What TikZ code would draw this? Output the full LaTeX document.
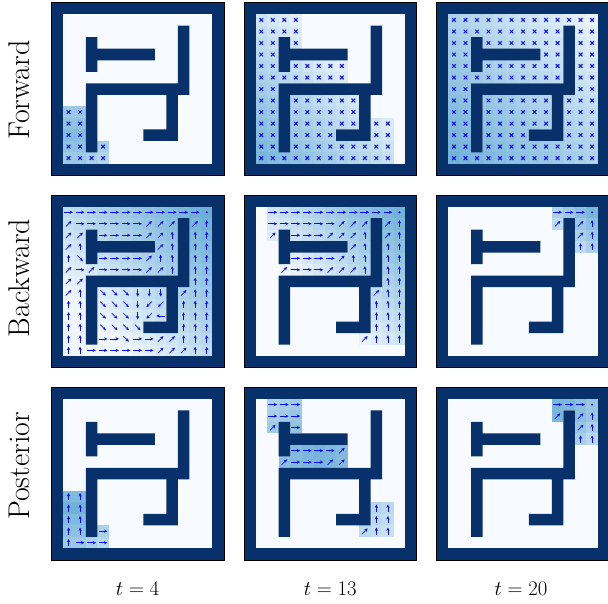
\documentclass[tikz,border=0pt]{standalone}
\usepackage{tikz}
\usetikzlibrary{arrows.meta}
\definecolor{mzwall}{HTML}{08306B}
\definecolor{mzfree}{HTML}{F7FBFF}
\definecolor{mzmid}{HTML}{6BAED6}
\definecolor{mzmark}{HTML}{0A0AF5}
\tikzset{
  mz/wall/.style={fill=mzwall},
  mz/edge/.style={draw=black, line width=0.8pt},
  mz/arr/.style={mzmark, line width=0.7pt, -{Stealth[length=3.4pt, width=3.2pt]}},
  mz/crs/.style={mzmark, line width=1pt},
  mz/side/.style={font=\fontsize{30}{36}\selectfont, rotate=90, inner sep=0pt},
  mz/time/.style={font=\fontsize{20.74}{24}\selectfont, inner sep=0pt}
}
% one glyph per cell code (x cross, o goal, arrows r l u d e s a)
\newcommand\mzsymx{\draw[mz/crs] (-0.16,-0.16) -- (0.16,0.16) (-0.16,0.16) -- (0.16,-0.16);}
\newcommand\mzsymo{\fill[mzmark] (0,0) circle (0.1);}
\newcommand\mzsymr{\draw[mz/arr] (-0.38,0) -- (0.38,0);}
\newcommand\mzsyml{\draw[mz/arr] (0.38,0) -- (-0.38,0);}
\newcommand\mzsymu{\draw[mz/arr] (0,0.32) -- (0,-0.32);}
\newcommand\mzsymd{\draw[mz/arr] (0,-0.32) -- (0,0.32);}
\newcommand\mzsyme{\draw[mz/arr] (-0.24,0.24) -- (0.24,-0.24);}
\newcommand\mzsyms{\draw[mz/arr] (-0.24,-0.24) -- (0.24,0.24);}
\newcommand\mzsyma{\draw[mz/arr] (0.24,-0.24) -- (-0.24,0.24);}
% #1,#2 corner, #3,#4 darkest cell, #5 top shade, #6 fall-off, #7 rows
\newcommand\mzpanel[7]{%
  \begin{scope}[shift={(#1,#2)}, x=11.51pt, y=-11.51pt]
    \fill[mz/wall] (0,0) rectangle (15,15);
    \fill[mzfree] (1,1) rectangle (14,14);
    \foreach \rw/\cells in {#7}
      \foreach \sym [count=\cl] in \cells {
        \if n\sym\else
          \pgfmathsetmacro\mzp{max(6,#5-#6*(abs(\cl-#3)+abs(\rw-#4)))}
          \fill[mzmid!\mzp!mzfree] (\cl,\rw) rectangle +(1,1);
          \begin{scope}[shift={(\cl+0.5,\rw+0.5)}]
            \csname mzsym\sym\endcsname
          \end{scope}
        \fi
      }
    \fill[mz/wall] (3,3) rectangle (4,6) (4,4) rectangle (9,5) (11,2) rectangle (12,8)
      (3,7) rectangle (12,8) (3,8) rectangle (4,13) (10,8) rectangle (11,12)
      (8,11) rectangle (10,12);
    \draw[mz/edge] (0,0) rectangle (15,15);
  \end{scope}}

\begin{document}
\begin{tikzpicture}[x=1pt, y=-1pt]
  \useasboundingbox (0,0) rectangle (608,603);
  \fill[white] (0,0) rectangle (608,603);

  % forward
  \mzpanel{51.3}{2.7}{1.5}{11}{85}{8}{9/{x,x}, 10/{x,x}, 11/{x,x}, 12/{x,x,n,x}, 13/{x,x,x,x}}
  \mzpanel{244}{2.7}{1}{13}{90}{5}{1/{x,x,x,x}, 2/{x,x,x,x}, 3/{x,x,n,x}, 4/{x,x},
    5/{x,x,n,x,x,x,x,x}, 6/{x,x,x,x,x,x,x,x}, 7/{x,x},
    8/{x,x,n,x,x,x,x,x,x}, 9/{x,x,n,x,x,x,x,x,x},
    10/{x,x,n,x,x,x,x,x,x,n,x,x}, 11/{x,x,n,x,x,x,x,n,n,n,x,x},
    12/{x,x,n,x,x,x,x,x,x,x,x,x}, 13/{x,x,x,x,x,x,x,x,x,x,x,x}}
  \mzpanel{436.7}{2.7}{1}{13}{95}{3.5}{1/{x,x,x,x,x,x,x,x,x,x,x,x,x},
    2/{x,x,x,x,x,x,x,x,x,x,n,x,x}, 3/{x,x,n,x,x,x,x,x,x,x,n,x,x},
    4/{x,x,n,n,n,n,n,n,x,x,n,x,x}, 5/{x,x,n,x,x,x,x,x,x,x,n,x,x},
    6/{x,x,x,x,x,x,x,x,x,x,n,x,x}, 7/{x,x,n,n,n,n,n,n,n,n,n,x,x},
    8/{x,x,n,x,x,x,x,x,x,n,x,x,x}, 9/{x,x,n,x,x,x,x,x,x,n,x,x,x},
    10/{x,x,n,x,x,x,x,x,x,n,x,x,x}, 11/{x,x,n,x,x,x,x,n,n,n,x,x,x},
    12/{x,x,n,x,x,x,x,x,x,x,x,x,x}, 13/{x,x,x,x,x,x,x,x,x,x,x,x,x}}

  % backward
  \mzpanel{51.3}{195}{13}{1}{100}{5}{1/{r,r,r,r,r,r,r,r,r,r,r,r,o},
    2/{e,r,r,r,r,r,r,e,e,e,n,e,u}, 3/{e,e,n,r,r,r,r,e,e,u,n,u,u},
    4/{e,u,n,n,n,n,n,n,e,u,n,u,u}, 5/{u,s,n,r,r,r,r,e,u,u,n,u,u},
    6/{e,r,e,r,r,r,r,e,e,u,n,u,u}, 7/{e,e,n,n,n,n,n,n,n,n,n,u,u},
    8/{e,u,n,s,s,s,d,d,d,n,e,u,u}, 9/{u,u,n,s,s,s,d,a,a,n,u,u,u},
    10/{u,u,n,s,s,s,d,a,l,n,u,u,u}, 11/{u,u,n,s,s,s,s,n,n,n,u,u,u},
    12/{u,u,n,r,r,s,r,r,e,e,u,u,u}, 13/{u,u,r,r,r,r,r,r,e,e,e,u,u}}
  \mzpanel{244}{195}{13}{1}{95}{6}{1/{n,r,r,r,r,r,r,r,r,r,r,r,o},
    2/{n,r,r,r,r,r,r,e,e,e,n,e,u}, 3/{n,e,n,r,r,r,e,e,e,u,n,e,u},
    4/{n,n,n,n,n,n,n,n,e,u,n,u,u}, 5/{n,n,n,r,r,r,r,e,u,u,n,u,u},
    6/{n,n,e,r,r,r,e,e,e,u,n,u,u}, 7/{n,n,n,n,n,n,n,n,n,n,n,u,u},
    8/{n,n,n,n,n,n,n,n,n,n,e,u,u}, 9/{n,n,n,n,n,n,n,n,n,n,u,u,u},
    10/{n,n,n,n,n,n,n,n,n,n,u,u,u}, 11/{n,n,n,n,n,n,n,n,n,n,u,u,u},
    12/{n,n,n,n,n,n,n,n,n,e,u,u,u}}
  \mzpanel{436.7}{195}{13}{1}{90}{12}{1/{n,n,n,n,n,n,n,n,n,r,r,r,o},
    2/{n,n,n,n,n,n,n,n,n,e,n,e,u}, 3/{n,n,n,n,n,n,n,n,n,n,n,e,u},
    4/{n,n,n,n,n,n,n,n,n,n,n,u,u}}

  % posterior
  \mzpanel{51.3}{387.3}{1.5}{10}{100}{10}{9/{u,u}, 10/{u,u}, 11/{u,u}, 12/{u,u,n,r}, 13/{u,r,r,r}}
  \mzpanel{244}{387.3}{6}{5.5}{95}{5}{1/{n,r,r,r}, 2/{n,r,r,r}, 3/{n,e,n,r},
    5/{n,n,n,r,r,r,r,e}, 6/{n,n,e,r,r,r,e,e},
    10/{n,n,n,n,n,n,n,n,n,n,u,u}, 11/{n,n,n,n,n,n,n,n,n,n,u,u},
    12/{n,n,n,n,n,n,n,n,n,e,u,u}}
  \mzpanel{436.7}{387.3}{10.5}{1.5}{100}{11}{1/{n,n,n,n,n,n,n,n,n,r,r,r,o},
    2/{n,n,n,n,n,n,n,n,n,e,n,e,u}, 3/{n,n,n,n,n,n,n,n,n,n,n,e,u},
    4/{n,n,n,n,n,n,n,n,n,n,n,u,u}}

  \node[mz/side] (fwd) at (19,90) {Forward};
  \node[mz/side] (bwd) at (19,278) {Backward};
  \node[mz/side] (post) at (19,466) {Posterior};
  \node[mz/time] (t4) at (137.6,589) {$t=4$};
  \node[mz/time] (t13) at (330.3,589) {$t=13$};
  \node[mz/time] (t20) at (521,589) {$t=20$};
\end{tikzpicture}
\end{document}
